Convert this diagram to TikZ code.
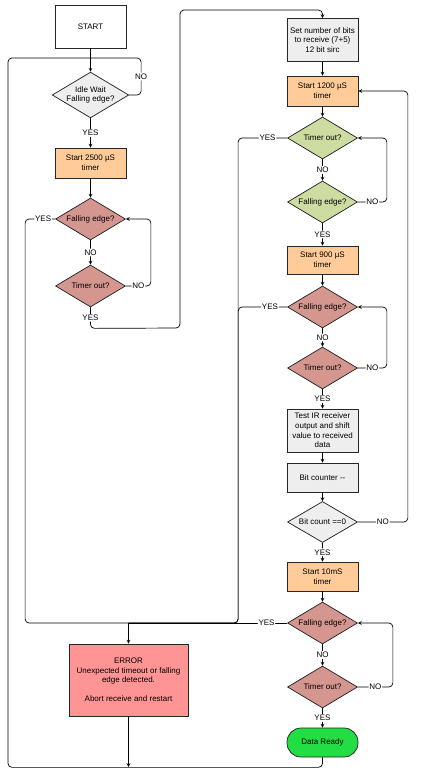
\documentclass[tikz,border=0pt]{standalone}
\usepackage{fontspec}
\setmainfont{Liberation Sans}
\usepackage{tikz}
\usetikzlibrary{shapes.geometric, arrows}
\definecolor{boxgray}{HTML}{EEEEEE}
\definecolor{boxorange}{HTML}{FFCC99}
\definecolor{diagreen}{HTML}{CDDCA0}
\definecolor{diared}{HTML}{D4968F}
\definecolor{errred}{HTML}{FF9494}
\definecolor{readygreen}{HTML}{22DD44}
\newcommand{\flowfont}{\fontsize{8}{9.6}\selectfont}
\tikzstyle{box} = [rectangle, draw=black!85, line width=0.75pt, minimum width=71pt, minimum height=30pt, align=center, inner sep=2pt, font=\flowfont]
\tikzstyle{dia} = [diamond, draw=black!85, line width=0.75pt, aspect=1.67, minimum width=70pt, minimum height=42pt, inner sep=0pt, align=center, font=\flowfont]
\tikzstyle{lbl} = [fill=white, inner sep=1pt, font=\flowfont]
\tikzstyle{arrow} = [line width=0.7pt, rounded corners=4pt, ->, >=stealth]
\tikzstyle{line} = [line width=0.7pt, rounded corners=4pt]

\begin{document}
\begin{tikzpicture}[x=1pt, y=-1pt]
  \useasboundingbox (0,0) rectangle (434,777);
  % left column
  \node[box, minimum height=43pt] (start) at (90.5,26.5) {START};
  \node[dia, fill=boxgray] (idle) at (90.5,95) {Idle Wait\\Falling edge?};
  \node[box, fill=boxorange] (t2500) at (90.5,163) {Start 2500 µS\\timer};
  \node[dia, fill=diared] (fe1) at (90.5,219) {Falling edge?};
  \node[dia, fill=diared] (to1) at (90.5,286) {Timer out?};
  \node[box, fill=errred, minimum width=119pt, minimum height=72pt] (err) at (128.5,680)
    {ERROR\\Unexpected timeout or falling\\edge detected.\\[9.6pt]Abort receive and restart};
  % right column
  \node[box, fill=boxgray, minimum height=43pt] (bits) at (322.5,40) {Set number of bits\\to receive (7+5)\\12 bit sirc};
  \node[box, fill=boxorange] (t1200) at (322.5,91) {Start 1200 µS\\timer};
  \node[dia, fill=diagreen] (to2) at (322.5,138) {Timer out?};
  \node[dia, fill=diagreen] (fe2) at (322.5,202) {Falling edge?};
  \node[box, fill=boxorange, minimum height=28pt] (t900) at (322.5,260) {Start 900 µS\\timer};
  \node[dia, fill=diared] (fe3) at (322.5,307) {Falling edge?};
  \node[dia, fill=diared] (to3) at (322.5,368) {Timer out?};
  \node[box, fill=boxgray, minimum height=43pt] (test) at (322.5,430.5) {Test IR receiver\\output and shift\\value to received\\data};
  \node[box, fill=boxgray, minimum height=29pt] (cnt) at (322.5,477.5) {Bit counter -{}-};
  \node[dia, fill=boxgray, minimum height=41pt] (bc) at (322.5,522) {Bit count ==0};
  \node[box, fill=boxorange, minimum height=29pt] (t10) at (322.5,576.5) {Start 10mS\\timer};
  \node[dia, fill=diared] (fe4) at (322.5,623) {Falling edge?};
  \node[dia, fill=diared] (to4) at (322.5,687) {Timer out?};
  \node[box, fill=readygreen, rounded corners=14pt, minimum height=29pt] (ready) at (322.5,742.5) {Data Ready};
  % junctions
  \coordinate (j1) at (90.5,58);
  \coordinate (j2) at (128.5,623);
  \coordinate (j4) at (128.5,767);

  % left column connectors
  \draw[arrow] (start) -- (idle);
  \draw[line] (idle.east) -- ++(12,0) -- node[lbl]{NO} ++(0,-37) -- (j1);
  \draw[arrow] (idle) -- node[lbl]{YES} (t2500);
  \draw[arrow] (t2500) -- (fe1);
  \draw[line] (fe1.west) -- node[lbl, pos=0.4]{YES} ++(-30,0) |- (j2);
  \draw[arrow] (fe1) -- node[lbl]{NO} (to1);
  \draw[arrow] (to1.east) -- node[lbl]{NO} ++(25,0) |- (fe1.east);
  \draw[arrow] (to1.south) -- node[lbl]{YES} ++(0,21) -- (180,328) -- (180,10) -| (bits.north);
  \draw[arrow] (j2) -- (err);
  \draw[arrow] (err) -- (j4);
  \draw[line] (ready.south) -- ++(0,10) -| (8,58) -- (j1);

  % right column connectors
  \draw[arrow] (bits) -- (t1200);
  \draw[arrow] (t1200) -- (to2);
  \draw[line] (to2.west) -- node[lbl, pos=0.4]{YES} ++(-49,0) |- (j2);
  \draw[arrow] (to2) -- node[lbl]{NO} (fe2);
  \draw[arrow] (fe2.east) -- node[lbl]{NO} ++(29,0) |- (to2.east);
  \draw[arrow] (fe2) -- node[lbl]{YES} (t900);
  \draw[arrow] (t900) -- (fe3);
  \draw[line] (fe3.west) -- node[lbl, pos=0.35]{YES} ++(-49,0) |- (j2);
  \draw[arrow] (fe3) -- node[lbl]{NO} (to3);
  \draw[arrow] (to3.east) -- node[lbl]{NO} ++(29,0) |- (fe3.east);
  \draw[arrow] (to3) -- node[lbl]{YES} (test);
  \draw[arrow] (test) -- (cnt);
  \draw[arrow] (cnt) -- (bc);
  \draw[arrow] (bc.east) -- node[lbl, pos=0.5]{NO} ++(50,0) |- (t1200.east);
  \draw[arrow] (bc) -- node[lbl]{YES} (t10);
  \draw[arrow] (t10) -- (fe4);
  \draw[line] (fe4.west) -- node[lbl, pos=0.13]{YES} (j2);
  \draw[arrow] (fe4) -- node[lbl]{NO} (to4);
  \draw[arrow] (to4.east) -- node[lbl]{NO} ++(35,0) |- (fe4.east);
  \draw[arrow] (to4) -- node[lbl]{YES} (ready);
\end{tikzpicture}
\end{document}
